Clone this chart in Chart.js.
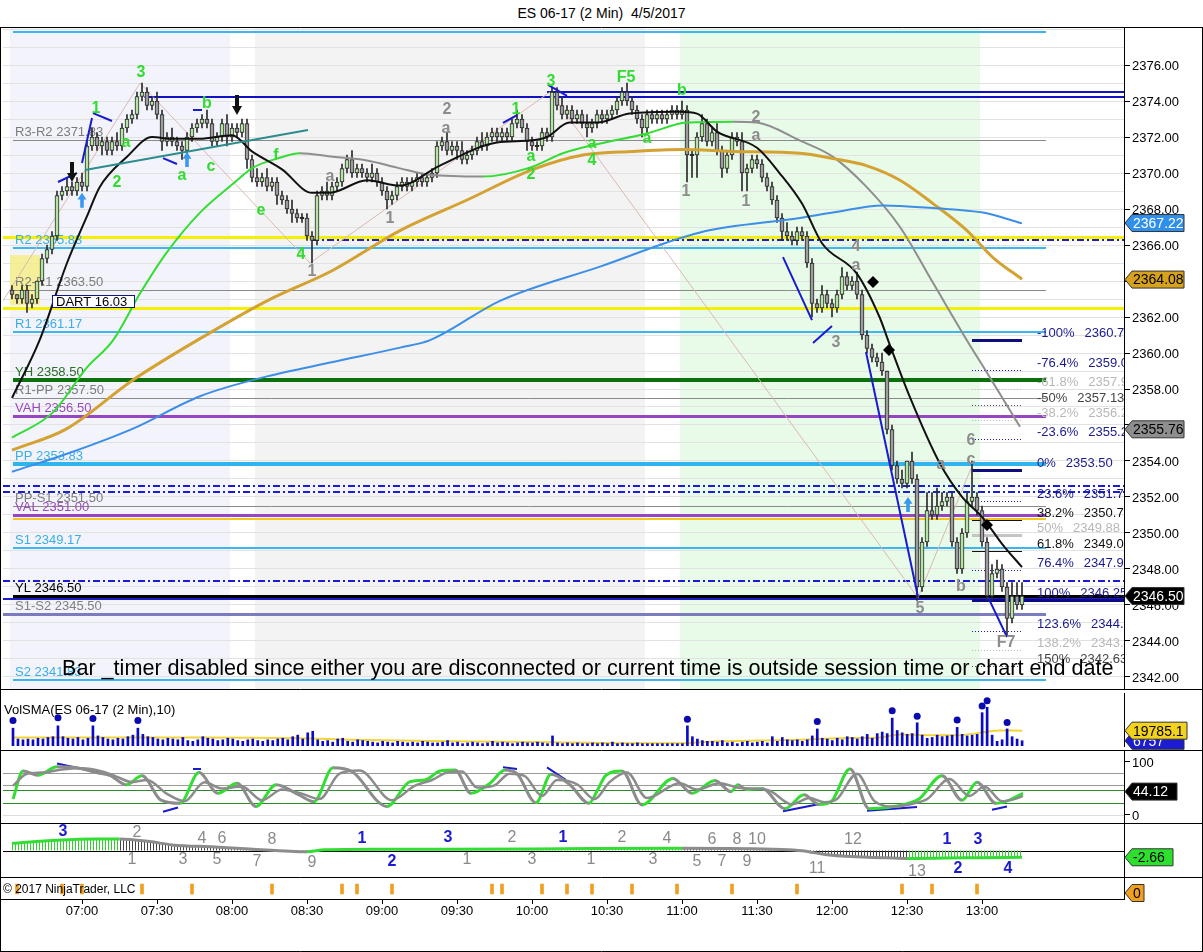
<!DOCTYPE html>
<html>
<head>
<meta charset="utf-8">
<title>ES 06-17 (2 Min) 4/5/2017</title>
<script src="https://cdn.jsdelivr.net/npm/chart.js"></script>
<style>
  html, body { margin: 0; padding: 0; background: #fff; }
  body { width: 1203px; height: 952px; position: relative; overflow: hidden;
         font-family: "Liberation Sans", Arial, sans-serif; }
  #title { position: absolute; left: 0; top: 5px; width: 1203px; text-align: center;
           font-size: 14px; white-space: pre; color: #000; }
  canvas { position: absolute; left: 0; }
</style>
</head>
<body>
<div id="title">ES 06-17 (2 Min)  4/5/2017</div>
<canvas id="main" width="1203" height="662" style="top:27px"></canvas>
<canvas id="vol" width="1203" height="61" style="top:689px"></canvas>
<canvas id="sto" width="1203" height="73" style="top:750px"></canvas>
<canvas id="mom" width="1203" height="54" style="top:823px"></canvas>
<canvas id="sig" width="1203" height="75" style="top:877px"></canvas>
<script>
// ---- values (times are minutes after midnight) ----
const firstBar = 392;          // 06:32
const barMinutes = 2;
const firstOpen = 2363.5;
const closes = [
  2363.25, 2363.0, 2363.5, 2362.75, 2363.0, 2364.0, 2365.25, 2365.75, 2366.5, 2368.75,
  2369.0, 2369.25, 2369.0, 2369.5, 2369.25, 2371.5, 2372.0, 2371.5, 2371.75, 2371.25,
  2371.75, 2371.5, 2372.5, 2373.0, 2373.25, 2374.25, 2374.5, 2373.75, 2374.0, 2373.25,
  2371.75, 2372.0, 2371.75, 2371.5, 2371.25, 2372.0, 2372.5, 2372.75, 2373.0, 2372.75,
  2371.75, 2372.0, 2372.75, 2372.0, 2372.5, 2372.25, 2372.75, 2370.75, 2369.75, 2369.5,
  2369.75, 2369.25, 2369.5, 2368.75, 2368.5, 2368.0, 2367.75, 2367.5, 2367.5, 2366.5,
  2366.25, 2368.75, 2369.0, 2368.75, 2369.25, 2369.5, 2370.25, 2370.75, 2370.0, 2370.25,
  2370.0, 2369.75, 2370.0, 2369.5, 2369.0, 2368.5, 2368.75, 2369.25, 2369.5, 2369.25,
  2369.5, 2369.75, 2369.5, 2369.75, 2370.0, 2371.5, 2371.75, 2371.25, 2371.5, 2371.25,
  2370.75, 2371.0, 2371.25, 2371.75, 2371.5, 2372.0, 2372.25, 2372.0, 2372.25, 2372.0,
  2372.75, 2373.0, 2372.5, 2371.75, 2371.5, 2371.5, 2372.25, 2372.0, 2374.5, 2373.75,
  2373.25, 2373.5, 2373.0, 2373.25, 2372.75, 2372.5, 2372.75, 2373.25, 2373.0, 2373.25,
  2373.5, 2374.0, 2374.5, 2374.0, 2373.5, 2373.0, 2372.5, 2373.25, 2373.0, 2373.25,
  2373.0, 2373.25, 2373.5, 2373.25, 2373.5, 2371.0, 2371.0, 2372.0, 2372.75, 2371.75,
  2372.25, 2371.25, 2370.25, 2371.0, 2372.0, 2371.75, 2370.0, 2370.25, 2370.75, 2370.5,
  2369.75, 2369.25, 2368.5, 2367.5, 2366.75, 2366.5, 2366.25, 2366.75, 2366.5, 2365.0,
  2362.75, 2362.5, 2363.25, 2362.75, 2362.5, 2363.25, 2364.25, 2363.75, 2364.0, 2363.25,
  2361.0, 2360.25, 2359.75, 2359.5, 2359.0, 2355.75, 2353.75, 2353.0, 2352.75, 2354.0,
  2353.0, 2347.0, 2349.5, 2351.25, 2351.0, 2351.5, 2351.75, 2352.0, 2349.5, 2348.0,
  2350.0, 2351.75, 2352.0, 2351.25, 2349.5, 2346.5, 2347.75, 2348.0, 2347.0, 2345.25,
  2346.5, 2346.0, 2346.5
];
// wick lengths in ticks (0.25)
const wickUp = [
  1,0,1,1,1,0,1,1,1,1, 1,2,1,1,2,1,2,1,1,1, 1,2,1,1,1,1,2,1,1,2, 1,1,2,1,1,1,1,1,1,2,
  1,1,1,2,1,1,1,1,1,2, 1,2,1,1,1,1,2,1,1,1, 1,1,1,2,1,1,1,1,2,1, 1,1,2,1,1,1,1,1,1,1,
  1,1,1,1,1,1,1,2,1,1, 2,1,1,1,2,1,1,1,1,1, 1,2,1,1,1,1,1,1,1,1, 2,1,1,1,1,2,1,1,1,1,
  1,1,1,2,1,1,1,1,1,1, 1,1,1,1,2,1,1,1,2,1, 1,2,1,1,1,1,2,1,1,1, 1,1,1,1,1,2,1,1,1,1,
  1,1,2,1,1,1,2,1,1,2, 1,1,1,1,2,0,1,1,2,0, 2,1,1,4,4,4,2,1,1,1, 1,2,8,1,1,1,2,2,1,1,
  3,3,3
];
const wickDn = [
  1,1,1,2,1,1,1,1,1,1, 1,1,1,1,1,1,1,1,2,1, 1,1,1,1,1,1,1,1,1,1, 2,1,1,1,2,1,1,1,1,1,
  1,1,1,2,1,1,1,2,1,1, 1,1,1,2,1,1,2,1,1,1, 5,1,1,1,1,1,1,1,1,1, 1,1,1,1,1,2,1,1,1,1,
  1,1,1,1,1,1,1,1,1,2, 1,1,1,1,1,1,1,1,1,1, 1,1,1,2,1,1,1,1,1,1, 1,1,1,1,1,2,1,1,1,1,
  1,1,1,1,1,1,2,1,1,1, 1,1,1,1,1,6,5,5,1,1, 1,1,2,1,1,1,4,4,1,1, 1,1,1,1,2,1,1,1,1,1,
  3,1,1,1,2,1,1,1,1,1, 1,1,1,1,1,1,1,1,1,1, 1,3,1,1,1,1,1,1,1,1, 1,1,1,1,1,1,1,1,1,4,
  1,1,1
];
// volume per bar, thousands of contracts
const volumes = [
  23,9,8,9,8,10,9,11,12,26, 12,10,9,11,8,10,26,13,11,9, 8,10,9,12,14,23,15,12,11,9,
  8,10,9,8,11,7,6,8,12,10, 9,7,8,10,9,7,6,8,9,7, 6,8,7,9,10,8,12,14,9,17,
  19,8,6,7,5,9,10,6,5,8, 7,6,5,4,6,5,4,6,5,4, 5,4,6,5,4,4,5,7,4,5,
  3,4,5,4,3,4,6,4,5,4, 3,4,5,4,4,5,4,3,13,4, 3,4,3,4,3,3,4,3,4,3,
  5,3,4,3,3,4,3,3,3,3, 3,3,3,3,3,26,12,9,7,6, 6,5,7,4,5,3,5,6,4,5,
  6,4,12,6,11,8,7,8,6,8, 13,22,10,9,7,10,8,12,11,9, 12,15,10,16,18,16,36,20,17,15,
  16,30,14,10,11,14,12,13,14,24, 15,13,14,15,43,50,14,6,8,22, 12,9,6.8
];
const volDots = [[392,32.8],[410,36.4],[424,35.6],[442,32.8],[662,34.4],[714,31.6],[744,45.6],
  [754,38.4],[770,33.6],[780,51.6],[782,58.4],[790,30.4]];
const volSma = [[392,11],[427,11],[467,11],[507,10],[527,8],[567,6],[607,5],[647,3.5],[663,4],
  [675,6],[691,7],[707,8],[723,10],[739,11],[747,15],[759,14],[771,14],[781,18],[787,20],[796,19.8]];
const volTags = [6.757, 19.7851];

const maBlack = [[392,2357.5],[403,2360.7],[414,2365],[422,2367.6],[427,2369.2],[438,2370.9],
  [448,2372],[456,2371.9],[467,2371.9],[480,2372.1],[488,2371.2],[500,2370.2],[512,2368.9],
  [519,2368.9],[534,2369.6],[547,2369.3],[563,2370.4],[586,2371.7],[599,2371.8],[606,2372],
  [615,2372.8],[626,2372.8],[639,2373.3],[659,2373.4],[666,2373.3],[674,2372.3],[690,2371.4],
  [699,2370],[708,2368.3],[716,2366.1],[730,2364.4],[739,2362],[743,2360.5],[751,2357.6],
  [763,2353.9],[772,2352],[780,2350.9],[788,2349.4],[796,2348.1]];
const maTrend = [[392,2355.3],[408.4,2356.7],[422,2359.2],[432.4,2360.7],[443.2,2363.3],
  [454,2365.6],[467.2,2367.8],[480.4,2369.4],[488.4,2370.3],[498,2370.8],[507.2,2371.1],
  [520.4,2370.9],[534,2370.7],[546,2370.3],[559.2,2369.9],[580.4,2369.8],[599.2,2370.3],
  [612.4,2371.1],[626,2371.6],[646,2372.2],[662,2372.8],[680.4,2372.85],[690,2372.8],
  [707.2,2371.8],[720.4,2370.9],[734,2369.2],[747.2,2367],[760.4,2363.9],[774,2360.7],
  [782,2358.9],[795.2,2355.9]];
const maGold = [[392,2354.6],[414,2355.8],[440.4,2358.5],[466,2360.7],[494,2362.9],[520.4,2364.6],
  [547.2,2366.8],[574,2368.5],[600.4,2370.2],[620.4,2371],[640.4,2371.2],[660.4,2371.3],
  [680.4,2371.2],[707.2,2371.1],[720.4,2370.8],[734,2370.4],[747.2,2369.6],[760.4,2368.3],
  [774,2366.8],[784.4,2365.3],[796,2364.1]];
const maBlue = [[392,2353.4],[414,2354.4],[440.4,2355.8],[467.2,2357.6],[494,2358.7],[520.4,2359.5],
  [547.2,2360.3],[559,2360.7],[587.2,2362.9],[627.2,2364.8],[667.2,2366.7],[707.2,2367.5],
  [720.4,2367.8],[740.4,2368.2],[760.4,2368.05],[780.4,2367.8],[796,2367.2]];
const zigzag = [[388.4,2362.9],[443.2,2375],[511.2,2365],[607.2,2374.5],[754.4,2346.4],[775.6,2353.6]];
const trendSegs = [[410.4,2369.5,418,2370.0],[420,2370.56,424,2373.06],[424.4,2373.33,432,2372.89],
  [452.4,2370.83,458,2370.5],[464.4,2373.5,468,2373.5],[588.4,2372.78,594,2373.22],
  [606.4,2374.89,614,2374.28],[700.4,2365.33,712,2361.83],[712.4,2360.56,720,2361.5],
  [733.6,2360.06,754.4,2346.44],[782.4,2346.44,790,2344.22]];
const tealLine = [421.2,2370.17,510.4,2372.39];

const levelPrices = [2377.83, 2374.5, 2374.25, 2371.83, 2366.45, 2366.28, 2365.83, 2363.5, 2362.5,
  2361.17, 2358.5, 2357.5, 2356.5, 2353.83, 2352.6, 2352.3, 2351.5, 2351.0, 2350.8, 2349.17,
  2347.35, 2346.5, 2346.35, 2345.5, 2341.83];
const levelNames = ['', '', '', 'R3-R2 2371.83', '', '', 'R2 2365.83', 'R2-R1 2363.50', '',
  'R1 2361.17', 'YH 2358.50', 'R1-PP 2357.50', 'VAH 2356.50', 'PP 2353.83', '', '',
  'PP-S1 2351.50', 'VAL 2351.00', '', 'S1 2349.17', '', 'YL 2346.50', '', 'S1-S2 2345.50', 'S2 2341.83'];
const levelKinds = ['pivot','swing','swing','mid','yellow','dash','pivot','mid','yellow','pivot','yh',
  'mid','va','pp','dash','dash','mid','va','gold','pivot','dash','yl','blue','slate','pivot'];
const levelFrom = [392.4, 606, 445, 392.4, 388.4, 512, 392.4, 392.4, 388.4, 392.4, 392.4, 392.4,
  392.4, 392.4, 388.4, 388.4, 392.4, 392.4, 392.4, 392.4, 388.4, 392.4, 388.4, 388.4, 392.4];
const levelTo = [805.6, 836.8, 836.8, 805.6, 836.8, 836.8, 805.6, 805.6, 836.8, 805.6, 805.6, 805.6,
  805.6, 805.6, 836.8, 836.8, 805.6, 805.6, 805.6, 805.6, 836.8, 836.8, 836.8, 805.6, 805.6];

const fibNames = ['-100%','-76.4%','-61.8%','-50%','-38.2%','-23.6%','0%','23.6%','38.2%','50%',
  '61.8%','76.4%','100%','123.6%','138.2%','150%'];
const fibPrices = [2360.75, 2359.04, 2357.98, 2357.13, 2356.27, 2355.21, 2353.50, 2351.79, 2350.73,
  2349.88, 2349.02, 2347.96, 2346.25, 2344.54, 2343.48, 2342.63];
const fibKinds = ['solid','dot','light','dim','light','dot','solid','dot','black','pale','black','dot',
  'solid','dot','light','dim'];
const fibTo = [796, 796, 796, 796, 796, 796, 796, 796, 796, 796, 796, 796, 836.8, 796, 796, 796];

const waveText = ['3','1','2','a','b','a','c','e','f','4','3','F5','b','1','a','2','a','4','a',
  '2','a','a','1','1','1','2','a','1','4','a','3','6','c','a','b','5','F7'];
const waveT = [443.6,425.6,434,437.6,470,460,471.6,491.6,497.6,507.6,607.6,637.6,660,593.6,599.6,
  599.6,624,624,646, 566,565.6,519.2,543.2,512,661.6,689.6,689.6,685.6,729.6,729.6,721.6,775.6,
  775.6,763.6,771.6,755.2,789.6];
const waveP = [2375.56,2373.56,2369.44,2371.67,2373.83,2369.83,2370.33,2367.89,2370.94,2365.44,
  2375.06,2375.28,2374.56,2373.5,2370.89,2369.89,2371.61,2370.67,2371.89, 2373.5,2372.44,2369.78,
  2367.44,2364.5,2368.94,2373.06,2372.06,2368.39,2365.89,2364.83,2360.56,2355.11,2354.06,2353.78,
  2347.0,2345.78,2343.9];
const waveTone = ['g','g','g','g','g','g','g','g','g','g','g','g','g','g','g','g','g','g','g',
  'k','k','k','k','k','k','k','k','k','k','k','k','k','k','k','k','k','k'];

const markT = [416, 482, 420, 462, 750.4, 736.4, 742.8, 782];
const markP = [2369.5, 2373.22, 2368.9, 2371.17, 2352.0, 2363.94, 2360.17, 2350.44];
const markKind = ['down','down','up','up','up','dia','dia','dia'];

const bandFrom = [391.2, 489.2, 659.2];
const bandTo = [479.2, 645.2, 779.2];
const bandTone = ['lav', 'grey', 'green'];
const yellowBox = [391.2, 403.2, 2362.67, 2365.44];
const dartBox = [408, 440.8, 2362.56, 2363.22];
const dartText = 'DART 16.03';
const priceTags = [2367.22, 2364.08, 2355.76, 2346.50];
const sessionNote = 'Bar _timer disabled since either you are disconnected or current time is outside session time or chart end date';

const stochFast = [[392.4,30],[396.4,83],[402.4,75],[410,91],[418,89],[425.6,80],[431.6,74],
  [437.6,57],[444,74],[451.6,28],[459.2,22],[466.8,80],[474.4,41],[482,60],[489.6,16],[497.6,57],
  [506.8,38],[512.8,25],[520.4,89],[528,82],[542,16],[551.2,63],[557.2,66],[563.2,83],[569.2,85],
  [575.6,41],[583.2,60],[589.2,85],[594,78],[601.6,23],[607.6,77],[615.2,57],[622.8,22],[626,45],
  [629.6,75],[636,83],[644,19],[656.4,69],[664,41],[673.2,65],[679.6,44],[682.4,57],[685.6,48],
  [692,50],[701.2,12],[708.8,38],[714.8,20],[719.6,25],[727.2,87],[734.8,12],[742.4,14],[750.4,22],
  [754.8,30],[764,74],[772,28],[778,62],[785.6,22],[790.4,27],[796.4,41]];
const stochSlow = [[392.4,55],[398,78],[404,80],[412,86],[420,88],[428,82],[434,72],[440,62],[446,66],
  [454,40],[461,26],[469,62],[476,50],[484,54],[492,28],[500,48],[508,40],[515,30],[523,78],[531,84],
  [544,28],[553,55],[560,66],[566,80],[572,82],[578,52],[585,56],[591,78],[597,74],[604,36],[610,66],
  [618,58],[625,30],[631,62],[638,80],[646,32],[659,60],[666,48],[675,60],[682,52],[688,50],[695,46],
  [704,20],[711,32],[717,24],[722,30],[730,78],[737,26],[745,16],[753,22],[758,30],[767,68],[775,36],
  [781,54],[788,26],[793,30],[796.4,36]];
const stochSegs = [[410,97,431.6,75],[452.4,6,458.4,14],[464.4,87,467.6,87],[588.4,90,594,87],
  [606,90,613.6,66],[700.4,7,719.6,25],[734,8,754,15],[784,10,790,16]];
const stochLevels = [80, 57, 47, 22, 0];
const stochTicks = [0, 100];
const stochLast = 44.12;

const momLine = [[392,2.8],[410,4.0],[425,4.5],[435,4.5],[447,3.5],[456,2.2],[473,1.4],[487,0.6],
  [510,-0.5],[517,0.3],[540,0.5],[600,0.6],[660,0.9],[700,0.4],[708,-0.1],[719,-1.8],[740,-2.8],
  [750,-3.1],[765,-2.9],[780,-2.8],[796,-2.66]];
const momText = ['3','2','1','3','4','6','5','7','8','9','1','2','3','1','2','3','1','1','2','3',
  '4','5','6','7','8','9','10','11','12','13','1','2','3','4'];
const momT = [412.4,442,440,460.4,468,476,474,490,496,512,532,544,566.4,574,592,600,612.4,623.6,636,
  648.4,654,666,672,676,682,686,690,714,728.4,754,766,770.4,778.4,790.4];
const momV = [7.3,6.9,-3.7,-3.7,4.5,4.5,-3.7,-4.5,4.1,-4.9,4.5,-4.5,4.9,-3.7,4.9,-3.7,4.9,-3.7,4.9,
  -3.7,4.5,-4.5,4.1,-4.5,4.1,-4.5,4.1,-6.9,4.1,-8.4,4.1,-6.9,4.1,-6.9];
const momTone = ['b','k','k','k','k','k','k','k','k','k','b','b','b','k','k','k','b','k','k','k',
  'k','k','k','k','k','k','k','k','k','k','b','b','b','b'];

const signalTimes = [394, 412, 420, 444, 464, 496, 524, 530, 544, 584, 588, 604, 614, 624, 640, 658,
  680, 706, 748, 760, 778];
const timeTicks = ['07:00','07:30','08:00','08:30','09:00','09:30','10:00','10:30','11:00','11:30',
  '12:00','12:30','13:00'];
const priceTicks = [2342, 2344, 2346, 2348, 2350, 2352, 2354, 2356, 2358, 2360, 2362, 2364, 2366,
  2368, 2370, 2372, 2374, 2376];

// ---- layout and look ----
const FONT = '"Liberation Sans", Arial, sans-serif';
const X_MIN = 388.4, X_MAX = 836.8, AXIS_W = 79;
const toMin = s => { const [h, m] = s.split(':').map(Number); return h * 60 + m; };
const pts = arr => arr.map(([x, y]) => ({ x, y }));
const segPts = segs => segs.flatMap(([a, b, c, d]) => [{ x: a, y: b }, { x: c, y: d }, { x: c, y: null }]);
const fixedWidth = ax => { ax.width = AXIS_W; };

const barTimes = closes.map((_, i) => firstBar + i * barMinutes);
const opens = closes.map((c, i) => (i ? closes[i - 1] : firstOpen));
const highs = closes.map((c, i) => Math.max(c, opens[i]) + wickUp[i] * 0.25);
const lows = closes.map((c, i) => Math.min(c, opens[i]) - wickDn[i] * 0.25);

const bandColor = { lav: '#f3f4fb', grey: '#f3f3f3', green: '#e8fae8' };
const levelLook = {
  pivot: { c: '#3cb6ee', w: 2, t: '#3aaee6' }, pp: { c: '#2fb4ee', w: 4, t: '#3aaee6' },
  mid: { c: '#8a8a8a', w: 1, t: '#7c7c7c' }, yh: { c: '#0c700c', w: 4, t: '#2a6e2a' },
  va: { c: '#9646c0', w: 3, t: '#9a4ab8' }, yellow: { c: '#f4f000', w: 3 },
  dash: { c: '#1c1cd4', w: 2, d: [7, 3, 2, 3] }, yl: { c: '#000', w: 3, t: '#000' },
  blue: { c: '#1c1cc8', w: 2 }, slate: { c: '#7b7bbd', w: 3, t: '#808080' },
  gold: { c: '#f2c61c', w: 2 }, swing: { c: '#1212c4', w: 2 }
};
const fibLook = {
  solid: { c: '#0d0d80', w: 3, t: '#1a1a8c' }, dot: { c: '#1a1a9a', w: 1, d: [1, 2], t: '#1a1a8c' },
  light: { c: '#bdbdbd', w: 1, d: [1, 2], t: '#b8b8b8' }, dim: { c: '#555', w: 1, d: [1, 2], t: '#444' },
  black: { c: '#111', w: 1, t: '#111' }, pale: { c: '#c4c4c4', w: 3, t: '#b8b8b8' }
};
const waveColor = { g: '#2fdc2f', k: '#8c8c8c' };

const common = {
  responsive: false, animation: false, events: [],
  plugins: { legend: { display: false }, tooltip: { enabled: false } }
};
const xAxis = () => ({ type: 'linear', min: X_MIN, max: X_MAX, display: false, offset: false });
const sideAxis = (min, max, extra) => Object.assign({
  position: 'right', min, max, afterFit: fixedWidth,
  grid: { display: false }, ticks: { display: false }, border: { color: '#000' }
}, extra || {});

function frame(chart, bottom) {
  const { ctx, width, height } = chart;
  ctx.save();
  ctx.strokeStyle = '#000'; ctx.lineWidth = 1;
  ctx.beginPath();
  ctx.moveTo(0, 0.5); ctx.lineTo(width, 0.5);
  ctx.moveTo(0.5, 0); ctx.lineTo(0.5, height);
  ctx.moveTo(width - 0.5, 0); ctx.lineTo(width - 0.5, height);
  if (bottom) { ctx.moveTo(0, height - 0.5); ctx.lineTo(width, height - 0.5); }
  ctx.stroke();
  ctx.restore();
}

function tag(ctx, y, text, bg, fg, w) {
  const x0 = 1125, h = 17;
  w = w || 59;
  ctx.save();
  ctx.beginPath();
  ctx.moveTo(x0, y); ctx.lineTo(x0 + 7, y - h / 2); ctx.lineTo(x0 + w, y - h / 2);
  ctx.lineTo(x0 + w, y + h / 2); ctx.lineTo(x0 + 7, y + h / 2); ctx.closePath();
  ctx.fillStyle = bg; ctx.fill();
  ctx.strokeStyle = '#333'; ctx.lineWidth = 1; ctx.stroke();
  ctx.fillStyle = fg; ctx.font = '14px ' + FONT;
  ctx.textBaseline = 'middle'; ctx.textAlign = 'left';
  ctx.fillText(text, x0 + 8, y + 1);
  ctx.restore();
}

function clipArea(ctx, a) {
  ctx.beginPath(); ctx.rect(a.left, a.top, a.right - a.left, a.bottom - a.top); ctx.clip();
}

function hLine(ctx, x0, x1, y, look) {
  const yy = Math.round(y) + (look.w % 2 ? 0.5 : 0);
  ctx.strokeStyle = look.c; ctx.lineWidth = look.w; ctx.setLineDash(look.d || []);
  ctx.beginPath(); ctx.moveTo(x0, yy); ctx.lineTo(x1, yy); ctx.stroke();
  ctx.setLineDash([]);
}

function arrow(ctx, x, y, dir, color, w, h) {
  const hw = w / 2, head = h * 0.45, sw = w * 0.2;
  ctx.beginPath();
  ctx.moveTo(x, y);
  ctx.lineTo(x - hw, y - dir * head); ctx.lineTo(x - sw, y - dir * head);
  ctx.lineTo(x - sw, y - dir * h); ctx.lineTo(x + sw, y - dir * h);
  ctx.lineTo(x + sw, y - dir * head); ctx.lineTo(x + hw, y - dir * head);
  ctx.closePath(); ctx.fillStyle = color; ctx.fill();
}

// ---- price panel ----
const mainDeco = {
  id: 'mainDeco',
  beforeDraw(chart) {
    const { ctx, chartArea: a, scales: { x } } = chart;
    ctx.save();
    bandFrom.forEach((t0, i) => {
      const x0 = x.getPixelForValue(t0), x1 = x.getPixelForValue(bandTo[i]);
      ctx.fillStyle = bandColor[bandTone[i]];
      ctx.fillRect(x0, a.top, x1 - x0, a.bottom - a.top);
    });
    ctx.restore();
  },
  beforeDatasetsDraw(chart) {
    const { ctx, chartArea: a, scales: { x, y } } = chart;
    ctx.save();
    clipArea(ctx, a);
    const bx0 = x.getPixelForValue(yellowBox[0]), bx1 = x.getPixelForValue(yellowBox[1]);
    const by0 = y.getPixelForValue(yellowBox[3]), by1 = y.getPixelForValue(yellowBox[2]);
    ctx.fillStyle = 'rgba(245,238,120,0.75)';
    ctx.fillRect(bx0, by0, bx1 - bx0, by1 - by0);

    levelPrices.forEach((p, i) => {
      hLine(ctx, x.getPixelForValue(levelFrom[i]), x.getPixelForValue(levelTo[i]), y.getPixelForValue(p), levelLook[levelKinds[i]]);
    });
    fibPrices.forEach((p, i) => {
      hLine(ctx, x.getPixelForValue(776), x.getPixelForValue(fibTo[i]), y.getPixelForValue(p), fibLook[fibKinds[i]]);
    });
    ctx.font = '13px ' + FONT; ctx.textBaseline = 'alphabetic'; ctx.textAlign = 'left';
    levelNames.forEach((n, i) => {
      if (!n) return;
      ctx.fillStyle = levelLook[levelKinds[i]].t;
      ctx.fillText(n, a.left + 12, y.getPixelForValue(levelPrices[i]) - 4);
    });
    ctx.restore();
  },
  afterDraw(chart) {
    const { ctx, chartArea: a, scales: { x, y } } = chart;
    ctx.save();
    clipArea(ctx, a);
    // DART box
    const dx0 = x.getPixelForValue(dartBox[0]), dx1 = x.getPixelForValue(dartBox[1]);
    const dy0 = y.getPixelForValue(dartBox[3]), dy1 = y.getPixelForValue(dartBox[2]);
    ctx.fillStyle = '#fff'; ctx.fillRect(dx0, dy0, dx1 - dx0, dy1 - dy0);
    ctx.strokeStyle = '#14148a'; ctx.lineWidth = 1;
    ctx.strokeRect(Math.round(dx0) + 0.5, Math.round(dy0) + 0.5, Math.round(dx1 - dx0), Math.round(dy1 - dy0));
    ctx.fillStyle = '#000'; ctx.font = '13px ' + FONT; ctx.textBaseline = 'middle';
    ctx.fillText(dartText, dx0 + 4, (dy0 + dy1) / 2 + 1);

    // markers
    markT.forEach((t, i) => {
      const px = x.getPixelForValue(t), py = y.getPixelForValue(markP[i]);
      if (markKind[i] === 'down') arrow(ctx, px, py, 1, '#111', 10, 20);
      else if (markKind[i] === 'up') arrow(ctx, px, py, -1, '#3a98f0', 9, 15);
      else {
        ctx.fillStyle = '#000'; ctx.beginPath();
        ctx.moveTo(px, py - 6); ctx.lineTo(px + 6, py); ctx.lineTo(px, py + 6); ctx.lineTo(px - 6, py);
        ctx.closePath(); ctx.fill();
      }
    });

    // wave counts
    ctx.font = 'bold 16px ' + FONT; ctx.textAlign = 'center'; ctx.textBaseline = 'middle';
    waveText.forEach((s, i) => {
      ctx.fillStyle = waveColor[waveTone[i]];
      ctx.fillText(s, x.getPixelForValue(waveT[i]), y.getPixelForValue(waveP[i]));
    });

    // fib labels
    ctx.font = '13px ' + FONT; ctx.textAlign = 'left'; ctx.textBaseline = 'alphabetic';
    const fx = x.getPixelForValue(802);
    fibNames.forEach((n, i) => {
      const py = y.getPixelForValue(fibPrices[i]) - 3;
      ctx.fillStyle = fibLook[fibKinds[i]].t;
      ctx.fillText(n, fx, py);
      ctx.fillText(fibPrices[i].toFixed(2), fx + ctx.measureText(n).width + 10, py);
    });

    // session message, stretched to the width it takes in the reference
    ctx.font = '19px ' + FONT;
    const size = 19 * 1053 / ctx.measureText(sessionNote).width;
    ctx.font = size.toFixed(1) + 'px ' + FONT;
    ctx.fillStyle = '#000'; ctx.textBaseline = 'alphabetic';
    ctx.fillText(sessionNote, a.left + 59, a.bottom - 14);
    ctx.restore();

    // price axis labels
    ctx.save();
    ctx.fillStyle = '#000'; ctx.font = '13px ' + FONT; ctx.textBaseline = 'middle'; ctx.textAlign = 'left';
    priceTicks.forEach(v => ctx.fillText(v.toFixed(2), a.right + 8, y.getPixelForValue(v) + 1));
    ctx.restore();

    tag(ctx, y.getPixelForValue(priceTags[0]), priceTags[0].toFixed(2), '#2f90ec', '#fff');
    tag(ctx, y.getPixelForValue(priceTags[1]), priceTags[1].toFixed(2), '#d6a21e', '#000');
    tag(ctx, y.getPixelForValue(priceTags[2]), priceTags[2].toFixed(2), '#8e8e8e', '#000');
    tag(ctx, y.getPixelForValue(priceTags[3]), priceTags[3].toFixed(2), '#000', '#fff');
    frame(chart, false);
  }
};

const curve = (data, color, width, order, extra) => Object.assign({
  type: 'line', data: pts(data), borderColor: color, borderWidth: width, pointRadius: 0,
  cubicInterpolationMode: 'monotone', order
}, extra || {});

new Chart(document.getElementById('main'), {
  type: 'bar',
  data: {
    datasets: [
      { type: 'line', data: pts(zigzag), borderColor: '#dcb9b0', borderWidth: 1, pointRadius: 0, order: 9 },
      { data: barTimes.map((t, i) => ({ x: t, y: [lows[i], highs[i]] })),
        backgroundColor: '#2b2b2b', barThickness: 1, grouped: false, order: 4 },
      { data: barTimes.map((t, i) => ({ x: t, y: opens[i] === closes[i] ? [opens[i] - 0.04, closes[i] + 0.04] : [opens[i], closes[i]] })),
        backgroundColor: closes.map((c, i) => (c > opens[i] ? '#b4e4a4' : c < opens[i] ? '#9d9d9d' : '#333')),
        borderColor: '#262626', borderWidth: 1, borderSkipped: false, barThickness: 4, grouped: false, order: 3 },
      curve(maBlue, '#3d8ee6', 2, 2),
      curve(maGold, '#d4a232', 3, 2),
      curve(maTrend, '#33dd33', 2, 2, {
        segment: { borderColor: c => (c.p1.parsed.y >= c.p0.parsed.y ? '#33dd33' : '#8e8e8e') }
      }),
      curve(maBlack, '#111', 2, 1),
      { type: 'line', data: segPts(trendSegs), borderColor: '#1a1ad0', borderWidth: 2, pointRadius: 0, spanGaps: false, order: 0 },
      { type: 'line', data: segPts([tealLine]), borderColor: '#2d8c8c', borderWidth: 2, pointRadius: 0, order: 0 }
    ]
  },
  options: Object.assign({}, common, {
    layout: { padding: { left: 3, top: 1, right: 0, bottom: 0 } },
    scales: {
      x: xAxis(),
      y: {
        position: 'right', min: 2341.333, max: 2378.056, afterFit: fixedWidth,
        afterBuildTicks: ax => {
          const t = [];
          for (let v = Math.ceil(ax.min); v <= ax.max; v++) t.push({ value: v });
          ax.ticks = t;
        },
        ticks: { display: false },
        grid: {
          color: '#e2e2e2', tickLength: 6,
          tickColor: c => (c.tick && priceTicks.includes(c.tick.value) ? '#000' : 'rgba(0,0,0,0)')
        },
        border: { color: '#000' }
      }
    }
  }),
  plugins: [mainDeco]
});

// ---- volume panel ----
new Chart(document.getElementById('vol'), {
  type: 'bar',
  data: {
    datasets: [
      { type: 'line', data: pts(volSma), borderColor: '#f2d43a', borderWidth: 2, pointRadius: 0,
        cubicInterpolationMode: 'monotone', order: 2 },
      { data: barTimes.map((t, i) => ({ x: t, y: volumes[i] })), backgroundColor: '#0b0bc4',
        barThickness: 2, grouped: false, order: 1 },
      { type: 'line', data: pts(volDots), showLine: false, pointRadius: 3.5,
        pointBackgroundColor: '#0a0ab0', pointBorderWidth: 0, order: 0 }
    ]
  },
  options: Object.assign({}, common, {
    layout: { padding: { left: 3, top: 1, right: 0, bottom: 3 } },
    scales: { x: xAxis(), y: sideAxis(0, 68.4) }
  }),
  plugins: [{
    id: 'volDeco',
    afterDraw(chart) {
      const { ctx, scales: { y } } = chart;
      ctx.save();
      ctx.fillStyle = '#000'; ctx.font = '13px ' + FONT; ctx.textBaseline = 'alphabetic';
      ctx.fillText('VolSMA(ES 06-17 (2 Min),10)', 4, 25);
      ctx.restore();
      tag(ctx, y.getPixelForValue(volTags[0]), Math.round(volTags[0] * 1000).toString(), '#1c1cd0', '#fff');
      tag(ctx, y.getPixelForValue(volTags[1]), (volTags[1] * 1000).toFixed(1), '#f2d21c', '#000', 62);
      frame(chart, false);
    }
  }]
});

// ---- stochastics panel ----
new Chart(document.getElementById('sto'), {
  type: 'line',
  data: {
    datasets: [
      { data: pts(stochSlow), borderColor: '#8c8c8c', borderWidth: 2.5, pointRadius: 0, cubicInterpolationMode: 'monotone' },
      { data: pts(stochFast), borderColor: '#33dd33', borderWidth: 3, pointRadius: 0, cubicInterpolationMode: 'monotone',
        segment: { borderColor: c => (c.p1.parsed.y >= c.p0.parsed.y ? '#33dd33' : '#8c8c8c') } },
      { data: segPts(stochSegs), borderColor: '#1a1ad0', borderWidth: 2, pointRadius: 0, spanGaps: false }
    ]
  },
  options: Object.assign({}, common, {
    layout: { padding: { left: 3, top: 1, right: 0, bottom: 0 } },
    scales: {
      x: xAxis(),
      y: sideAxis(-15.1, 120.75, {
        afterBuildTicks: ax => { ax.ticks = stochTicks.map(v => ({ value: v })); },
        grid: { drawOnChartArea: false, tickLength: 6, color: '#000' }
      })
    }
  }),
  plugins: [{
    id: 'stoDeco',
    beforeDatasetsDraw(chart) {
      const { ctx, chartArea: a, scales: { y } } = chart;
      const looks = ['#9a9a9a', '#9a9a9a', '#2a8a2a', '#2a8a2a', '#dddddd'];
      ctx.save();
      stochLevels.forEach((v, i) => hLine(ctx, a.left, a.right, y.getPixelForValue(v), { c: looks[i], w: 1 }));
      ctx.restore();
    },
    afterDraw(chart) {
      const { ctx, chartArea: a, scales: { y } } = chart;
      ctx.save();
      ctx.fillStyle = '#000'; ctx.font = '13px ' + FONT; ctx.textBaseline = 'middle';
      stochTicks.forEach(v => ctx.fillText(String(v), a.right + 8, y.getPixelForValue(v) + 1));
      ctx.restore();
      tag(ctx, y.getPixelForValue(stochLast), stochLast.toFixed(2), '#000', '#fff', 52);
      frame(chart, false);
    }
  }]
});

// ---- momentum panel ----
function stripes(color) {
  const c = document.createElement('canvas');
  c.width = 3; c.height = 4;
  const g = c.getContext('2d');
  g.fillStyle = color; g.fillRect(0, 0, 1, 4);
  return g.createPattern(c, 'repeat');
}
const greenStripe = stripes('#2cd42c');
const darkStripe = stripes('#444');

new Chart(document.getElementById('mom'), {
  type: 'line',
  data: {
    datasets: [{
      data: pts(momLine), borderColor: '#8c8c8c', borderWidth: 3, pointRadius: 0,
      cubicInterpolationMode: 'monotone', fill: 'origin', backgroundColor: darkStripe,
      segment: {
        borderColor: c => (c.p1.parsed.y >= c.p0.parsed.y ? '#33dd33' : '#8c8c8c'),
        backgroundColor: c => (c.p1.parsed.y >= c.p0.parsed.y ? greenStripe : darkStripe)
      }
    }]
  },
  options: Object.assign({}, common, {
    layout: { padding: { left: 3, top: 1, right: 0, bottom: 0 } },
    scales: { x: xAxis(), y: sideAxis(-10.39, 10.39) }
  }),
  plugins: [{
    id: 'momDeco',
    beforeDatasetsDraw(chart) {
      const { ctx, chartArea: a, scales: { y } } = chart;
      ctx.save();
      hLine(ctx, a.left, a.right, y.getPixelForValue(0), { c: '#000', w: 1 });
      ctx.restore();
    },
    afterDraw(chart) {
      const { ctx, chartArea: a, scales: { x, y } } = chart;
      ctx.save();
      clipArea(ctx, a);
      ctx.textAlign = 'center'; ctx.textBaseline = 'middle';
      momText.forEach((s, i) => {
        ctx.font = (momTone[i] === 'b' ? 'bold ' : '') + '16px ' + FONT;
        ctx.fillStyle = momTone[i] === 'b' ? '#1a1ad0' : '#8a8a8a';
        ctx.fillText(s, x.getPixelForValue(momT[i]), y.getPixelForValue(momV[i]));
      });
      ctx.restore();
      const last = momLine[momLine.length - 1][1];
      tag(ctx, y.getPixelForValue(last), last.toFixed(2), '#2ee02e', '#000', 48);
      frame(chart, false);
    }
  }]
});

// ---- signal panel + time axis ----
new Chart(document.getElementById('sig'), {
  type: 'bar',
  data: {
    datasets: [{
      data: signalTimes.map(t => ({ x: t, y: [0.24, 0.71] })),
      backgroundColor: '#f0a020', barThickness: 3, grouped: false
    }]
  },
  options: Object.assign({}, common, {
    layout: { padding: { left: 3, top: 1, right: 0, bottom: 53 } },
    scales: { x: xAxis(), y: sideAxis(0, 1) }
  }),
  plugins: [{
    id: 'sigDeco',
    afterDraw(chart) {
      const { ctx, chartArea: a, scales: { x, y } } = chart;
      ctx.save();
      ctx.fillStyle = '#000'; ctx.font = '12px ' + FONT; ctx.textBaseline = 'alphabetic';
      ctx.fillText('\u00a9 2017 NinjaTrader, LLC', 3, 16);
      ctx.strokeStyle = '#000'; ctx.lineWidth = 1;
      ctx.beginPath();
      ctx.moveTo(0, Math.round(a.bottom) + 0.5); ctx.lineTo(a.right, Math.round(a.bottom) + 0.5);
      timeTicks.forEach(s => {
        const px = Math.round(x.getPixelForValue(toMin(s))) + 0.5;
        ctx.moveTo(px, a.bottom); ctx.lineTo(px, a.bottom + 5);
      });
      ctx.stroke();
      ctx.font = '13px ' + FONT; ctx.textAlign = 'center'; ctx.textBaseline = 'middle';
      timeTicks.forEach(s => ctx.fillText(s, x.getPixelForValue(toMin(s)), a.bottom + 12));
      ctx.restore();
      tag(ctx, y.getPixelForValue(0) - 6, '0', '#f0a020', '#000', 19);
      frame(chart, true);
    }
  }]
});
</script>
</body>
</html>
